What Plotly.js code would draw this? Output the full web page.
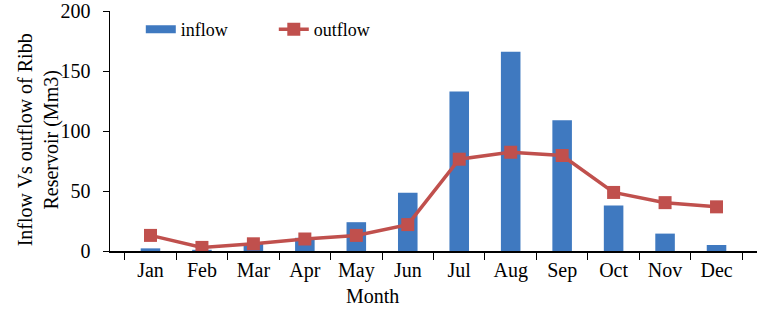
<!DOCTYPE html>
<html>
<head>
<meta charset="utf-8">
<script src="https://cdn.plot.ly/plotly-3.0.1.min.js"></script>
<style>html,body{margin:0;padding:0;background:#fff}#chart{width:757px;height:309px}</style>
</head>
<body>
<div id="chart"></div>
<script>
const months = ["Jan","Feb","Mar","Apr","May","Jun","Jul","Aug","Sep","Oct","Nov","Dec"];
const inflow = [2.2, 1, 6.5, 11, 24, 48.5, 133, 166, 109, 38, 14.5, 5];
const outflow = [13, 3, 6, 10, 13, 22, 76.5, 82.3, 79.6, 48.8, 40.3, 36.8];
const yTicks = [0, 50, 100, 150, 200];
const seriesNames = ["inflow", "outflow"];
const xTitle = "Month";
const yTitle = "Inflow Vs outflow of Ribb<br>Reservoir (Mm3)";

const BLUE = "#3f79c0", RED = "#c0504d";
const fam = "Liberation Serif, Times New Roman, serif";
const f = s => ({family: fam, size: s, color: "#000"});

const traces = [
  {type: "bar", name: seriesNames[0], x: months, y: inflow, showlegend: false,
   marker: {color: BLUE}},
  // legend-only entry so the inflow key is drawn as a wide bar, like the reference
  {type: "scatter", mode: "lines", name: seriesNames[0], x: [null], y: [null],
   line: {color: BLUE, width: 8}, hoverinfo: "skip"},
  {type: "scatter", mode: "lines+markers", name: seriesNames[1], x: months, y: outflow,
   line: {color: RED, width: 3.5},
   marker: {symbol: "square", size: 13, color: RED}}
];

const layout = {
  width: 757, height: 309,
  margin: {l: 110, r: 0, t: 11, b: 58},
  paper_bgcolor: "#fff", plot_bgcolor: "#fff",
  font: f(18),
  bargap: 0.62,
  showlegend: true,
  legend: {orientation: "h", x: 0.0476, y: 1.0, xanchor: "left", yanchor: "top",
           font: f(18), entrywidth: 88, bgcolor: "rgba(0,0,0,0)"},
  xaxis: {type: "category", showline: true, linecolor: "#000", linewidth: 1.5,
          ticks: "outside", tickson: "boundaries", ticklen: 7, tickcolor: "#000",
          showgrid: false, zeroline: false, tickfont: f(20)},
  yaxis: {range: [0, 200], tickvals: yTicks, showline: true, linecolor: "#000", linewidth: 1.5,
          ticks: "outside", ticklen: 6, tickcolor: "#000", showgrid: false, zeroline: false,
          tickfont: f(20), ticklabelstandoff: 8, ticklabeloverflow: "allow"},
  annotations: [
    {text: xTitle, xref: "paper", yref: "paper", x: 0.405, y: -0.1875, borderpad: 0,
     xanchor: "center", yanchor: "middle", showarrow: false, font: f(20)},
    {text: yTitle, xref: "paper", yref: "paper", x: -0.11, y: 0.4646,
     xanchor: "center", yanchor: "middle", showarrow: false, textangle: -90, font: f(20)}
  ]
};

Plotly.newPlot("chart", traces, layout, {displayModeBar: false, staticPlot: true});
</script>
</body>
</html>
